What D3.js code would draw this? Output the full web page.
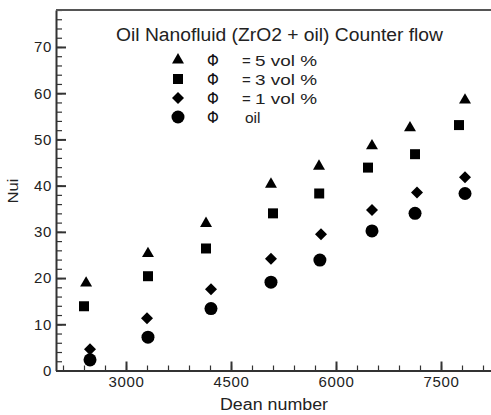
<!DOCTYPE html>
<html>
<head>
<meta charset="utf-8">
<script src="https://cdn.jsdelivr.net/npm/d3@7"></script>
<style>
  body { margin: 0; background: #fff; }
  svg { display: block; font-family: "Liberation Sans", Arial, sans-serif; }
  .axis path, .axis line { stroke: #333; }
  .axis text { fill: #222; font-size: 15px; letter-spacing: 0.6px; }
</style>
</head>
<body>
<svg id="chart"></svg>
<script>
// data
var dean5 = [2430, 3314, 4143, 5071, 5757, 6514, 7057, 7843];
var nui5  = [18.9, 25.3, 31.8, 40.3, 44.2, 48.6, 52.5, 58.5];
var dean3 = [2400, 3314, 4143, 5100, 5760, 6457, 7129, 7757];
var nui3  = [13.9, 20.4, 26.4, 34.0, 38.3, 43.9, 46.8, 53.1];
var dean1 = [2486, 3300, 4214, 5071, 5786, 6514, 7157, 7843];
var nui1  = [4.6, 11.3, 17.6, 24.2, 29.5, 34.7, 38.5, 41.8];
var deanOil = [2486, 3314, 4214, 5071, 5770, 6514, 7129, 7843];
var nuiOil  = [2.3, 7.2, 13.4, 19.1, 23.9, 30.2, 34.0, 38.3];

var xTicks = [3000, 4500, 6000, 7500];
var yTicks = [0, 10, 20, 30, 40, 50, 60, 70];
var legendValues = ["5 vol %", "3 vol %", "1 vol %", "oil"];

var width = 491, height = 415;
var svg = d3.select("#chart").attr("width", width).attr("height", height);

var x = d3.scaleLinear().domain([2000, 8300]).range([56, 497]);
var y = d3.scaleLinear().domain([0, 78]).range([370.5, 10]);

// minor ticks
svg.append("g")
    .attr("class", "axis")
    .attr("transform", "translate(0," + y(0) + ")")
    .call(d3.axisBottom(x).tickValues(d3.range(2100, 8300, 300)).tickSize(-5).tickFormat(""))
    .call(function(g) { g.select(".domain").remove(); })
    .selectAll("line").attr("stroke-width", 1.2);

svg.append("g")
    .attr("class", "axis")
    .attr("transform", "translate(" + x(2000) + ",0)")
    .call(d3.axisLeft(y).tickValues(d3.range(0, 79, 2)).tickSize(-6).tickFormat(""))
    .call(function(g) { g.select(".domain").remove(); })
    .selectAll("line").attr("stroke-width", 1.2);

// major ticks
var xAxis = svg.append("g")
    .attr("class", "axis")
    .attr("transform", "translate(0," + y(0) + ")")
    .call(d3.axisBottom(x).tickValues(xTicks).tickFormat(d3.format("d"))
      .tickSize(-9).tickPadding(6).tickSizeOuter(0));
xAxis.select(".domain").attr("stroke-width", 2);
xAxis.selectAll(".tick line").attr("stroke-width", 2);

var yAxis = svg.append("g")
    .attr("class", "axis")
    .attr("transform", "translate(" + x(2000) + ",0)")
    .call(d3.axisLeft(y).tickValues(yTicks).tickSize(-10).tickPadding(4).tickSizeOuter(0));
yAxis.select(".domain").attr("stroke-width", 2);
yAxis.selectAll(".tick line").attr("stroke-width", 2);

// top frame line
svg.append("line")
    .attr("x1", x(2000)).attr("x2", width)
    .attr("y1", y(78)).attr("y2", y(78))
    .attr("stroke", "#555").attr("stroke-width", 2);

// axis titles
svg.append("text")
    .attr("x", 220).attr("y", 410)
    .attr("font-size", 16).attr("fill", "#222")
    .attr("textLength", 108).attr("lengthAdjust", "spacingAndGlyphs")
    .text("Dean number");

svg.append("text")
    .attr("transform", "translate(18,191) rotate(-90)")
    .attr("text-anchor", "middle")
    .attr("font-size", 14).attr("fill", "#222")
    .attr("textLength", 25).attr("lengthAdjust", "spacingAndGlyphs")
    .text("Nui");

// series
var series = [
  {xs: dean5, ys: nui5, type: d3.symbolTriangle, size: 62, rot: 0},
  {xs: dean3, ys: nui3, type: d3.symbolSquare, size: 100, rot: 0},
  {xs: dean1, ys: nui1, type: d3.symbolSquare, size: 72, rot: 45},
  {xs: deanOil, ys: nuiOil, type: d3.symbolCircle, size: 133, rot: 0}
];

series.forEach(function(s) {
  var sym = d3.symbol().type(s.type).size(s.size);
  svg.append("g").selectAll("path")
      .data(s.xs)
    .enter().append("path")
      .attr("d", sym)
      .attr("fill", "#000")
      .attr("transform", function(d, i) {
        return "translate(" + x(d) + "," + y(s.ys[i]) + ") rotate(" + s.rot + ")";
      });
});

// title
svg.append("text")
    .attr("x", 116).attr("y", 41)
    .attr("font-size", 18).attr("fill", "#222")
    .attr("textLength", 327).attr("lengthAdjust", "spacingAndGlyphs")
    .text("Oil Nanofluid (ZrO2 + oil) Counter flow");

// legend
var legend = svg.append("g");
series.forEach(function(s, i) {
  var ly = 60 + i * 19;
  var sym = d3.symbol().type(s.type).size(s.size);
  legend.append("path")
      .attr("d", sym)
      .attr("fill", "#000")
      .attr("transform", "translate(178," + ly + ") rotate(" + s.rot + ")");
  legend.append("text")
      .attr("x", 213).attr("y", ly + 5.5)
      .attr("text-anchor", "middle")
      .attr("font-family", "DejaVu Sans, sans-serif")
      .attr("font-size", 15).attr("fill", "#111")
      .text("\u03A6");
  if (i < 3) {
    legend.append("text")
        .attr("x", 242).attr("y", ly + 5.5)
        .attr("font-size", 15).attr("fill", "#222")
        .text("=");
    legend.append("text")
        .attr("x", 255).attr("y", ly + 5.5)
        .attr("font-size", 15.5).attr("fill", "#222")
        .attr("textLength", 62).attr("lengthAdjust", "spacingAndGlyphs")
        .text(legendValues[i]);
  } else {
    legend.append("text")
        .attr("x", 245).attr("y", ly + 5.5)
        .attr("font-size", 15.5).attr("fill", "#222")
        .text(legendValues[i]);
  }
});
</script>
</body>
</html>
